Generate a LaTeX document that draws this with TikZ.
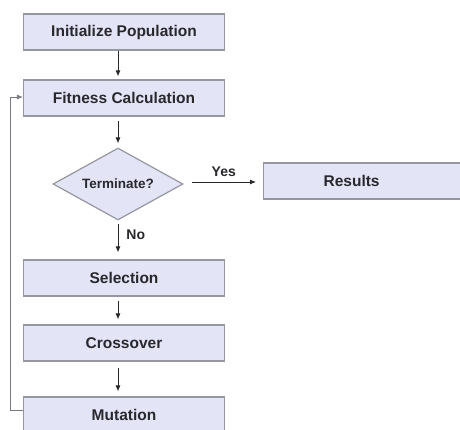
\documentclass[tikz,border=0pt]{standalone}
\usepackage{fontspec}
\setmainfont{Liberation Sans}
\usepackage{tikz}
\usetikzlibrary{arrows.meta, shapes.geometric, calc}

\definecolor{boxfill}{RGB}{228,228,247}
\definecolor{boxline}{RGB}{150,150,160}
\definecolor{txt}{RGB}{40,40,45}

\begin{document}
\begin{tikzpicture}[x=1pt,y=-1pt,>={Latex[length=6pt,width=5pt]},
  stage/.style={draw=boxline,line width=1.2pt,fill=boxfill,minimum width=201pt,minimum height=36pt,
                inner sep=0pt,font=\fontsize{15.5}{17}\selectfont\bfseries,text=txt},
  choice/.style={diamond,aspect=2,draw=boxline,line width=1.2pt,fill=boxfill,minimum width=130pt,minimum height=72pt,
                inner sep=0pt,font=\fontsize{13.5}{15}\selectfont\bfseries,text=txt},
  flow/.style={->,draw=txt,line width=.8pt},
  tag/.style={font=\fontsize{14}{16}\selectfont\bfseries,text=txt,inner sep=0pt}]
\useasboundingbox (0,0) rectangle (460,429);
\begin{scope}
\clip (0,0) rectangle (460,429);
\node [stage] (init) at (124,32)  {Initialize Population};
\node [stage] (fit)  at (124,98)  {Fitness Calculation};
\node [choice] (term) at (118,184) {Terminate?};
\node [stage,minimum width=0pt,text width=217pt,align=left,anchor=west] (res) at (263,181) {\hspace*{60pt}Results};
\node [stage] (sel)  at (124,278) {Selection};
\node [stage] (cro)  at (124,343) {Crossover};
\node [stage] (mut)  at (124,415) {Mutation};

\draw [flow] (init.south -| term.north) -- ($ (fit.north -| term.north) + (0,-3) $);
\draw [flow] ($ (fit.south -| term.north) + (0,4) $) -- ($ (term.north) + (0,-4) $);
\draw [flow] ($ (term.east) + (8,-2) $) -- node [tag,above=5pt] {Yes} ($ (res.west |- term.east) + (-7,-2) $);
\draw [flow] ($ (term.south) + (0,3) $) -- node [tag,right=8pt,pos=.4] {No} ($ (sel.north -| term.south) + (0,-7) $);
\draw [flow] ($ (sel.south -| term.south) + (0,4) $) -- ($ (cro.north -| term.south) + (0,-5) $);
\draw [flow] ($ (cro.south -| term.south) + (0,6) $) -- ($ (mut.north -| term.south) + (0,-5) $);
\draw [flow,draw=boxline!80!black] ($ (mut.west) + (0,-5) $) -- ++(-13,0) |- ($ (fit.west) + (0,-1) $);
\end{scope}
\end{tikzpicture}
\end{document}
